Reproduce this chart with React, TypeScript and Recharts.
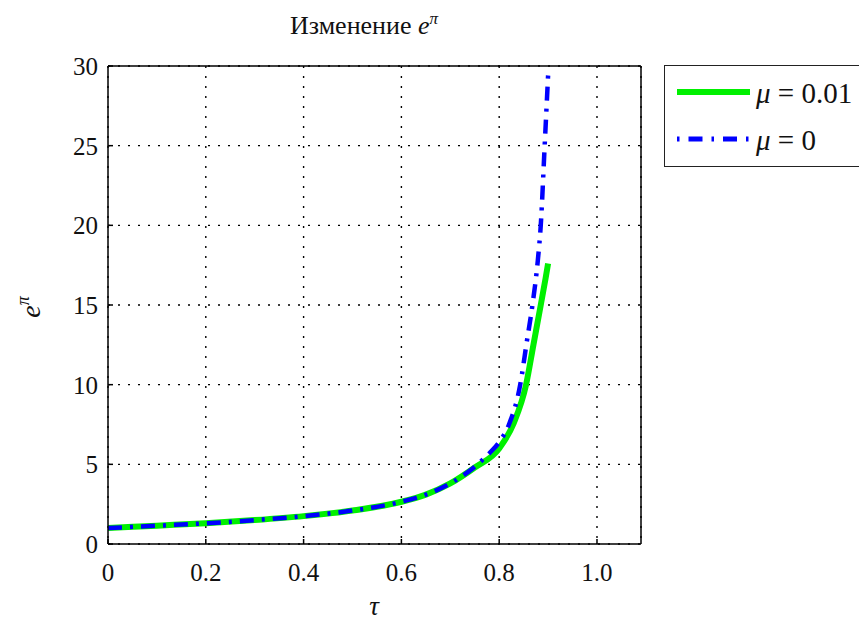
import React from 'react';
import { LineChart, Line, XAxis, YAxis, CartesianGrid, Legend, Label } from 'recharts';

// τ values and e^π values
const tauGreen = [0, 0.1, 0.2, 0.3, 0.4, 0.5, 0.6, 0.65, 0.7, 0.75, 0.8, 0.83, 0.855, 0.87, 0.885, 0.895, 0.9];
const valGreen = [1.0, 1.15, 1.3, 1.5, 1.75, 2.1, 2.65, 3.1, 3.8, 4.8, 6.0, 7.6, 10, 12.5, 15, 16.7, 17.6];
const tauBlue = [0, 0.1, 0.2, 0.3, 0.4, 0.5, 0.6, 0.65, 0.7, 0.75, 0.78, 0.8, 0.82, 0.843, 0.856, 0.868, 0.879, 0.885, 0.893, 0.9];
const valBlue = [1.0, 1.15, 1.3, 1.5, 1.75, 2.1, 2.65, 3.1, 3.8, 4.85, 5.7, 6.4, 7.5, 10, 12.6, 15, 17.8, 20, 25, 29.4];

const xTicks = [0, 0.2, 0.4, 0.6, 0.8, 1.0];
const yTicks = [0, 5, 10, 15, 20, 25, 30];
const seriesNames = ['0.01', '0'];

const greenData = tauGreen.map((t, i) => ({ tau: t, v: valGreen[i] }));
const blueData = tauBlue.map((t, i) => ({ tau: t, v: valBlue[i] }));

const FONT = '"Liberation Serif", "DejaVu Serif", serif';
const GREEN = '#00f000';
const BLUE = '#0000ff';

const renderLegend = () => (
  <div style={{ width: 195, height: 102, boxSizing: 'border-box', border: '1.5px solid #222', borderRight: 'none', background: '#fff' }}>
    <svg width={195} height={100} style={{ display: 'block' }}>
      <line x1={12} x2={85} y1={26} y2={26} stroke={GREEN} strokeWidth={6} />
      <text x={91} y={37} fontFamily={FONT} fontSize={29} fill="#111">
        <tspan fontStyle="italic">μ</tspan>
        <tspan> = {seriesNames[0]}</tspan>
      </text>
      <line x1={12} x2={84} y1={73} y2={73} stroke={BLUE} strokeWidth={5} strokeDasharray="2.5 9 14 9" />
      <text x={91} y={84} fontFamily={FONT} fontSize={29} fill="#111">
        <tspan fontStyle="italic">μ</tspan>
        <tspan> = {seriesNames[1]}</tspan>
      </text>
    </svg>
  </div>
);

const tickStyle = { fontFamily: FONT, fontSize: 25, fill: '#111' };

export default function App() {
  return (
    <div style={{ position: 'absolute', left: 0, top: 0, width: 859, height: 620, overflow: 'hidden', background: '#fff' }}>
      <LineChart width={859} height={620} margin={{ top: 65, right: 217, bottom: 46, left: 0 }}>
        <CartesianGrid stroke="#000" strokeWidth={1.4} strokeDasharray="2 8" />
        <XAxis
          dataKey="tau"
          type="number"
          domain={[0, 1.09]}
          ticks={xTicks}
          interval={0}
          allowDataOverflow
          height={30}
          stroke="#000"
          strokeWidth={1.5}
          tickSize={-5}
          tickMargin={24}
          tick={tickStyle}
          tickFormatter={(v: number) => (v === 0 ? '0' : v.toFixed(1))}
        >
          <Label
            content={() => (
              <text x={374} y={615} fontFamily={FONT} fontSize={27} fontStyle="italic" fill="#111" textAnchor="middle">τ</text>
            )}
          />
        </XAxis>
        <XAxis
          xAxisId="top"
          orientation="top"
          type="number"
          domain={[0, 1.09]}
          ticks={xTicks}
          interval={0}
          allowDataOverflow
          height={1}
          stroke="#000"
          strokeWidth={1.5}
          tickSize={-5}
          tick={false}
        >
          <Label
            content={() => (
              <text x={364} y={34} fontFamily={FONT} fontSize={26} fill="#111" textAnchor="middle">
                <tspan>Изменение </tspan>
                <tspan fontStyle="italic">e</tspan>
                <tspan fontStyle="italic" fontSize={17} dy={-10}>π</tspan>
              </text>
            )}
          />
        </XAxis>
        <YAxis
          type="number"
          domain={[0, 30]}
          ticks={yTicks}
          interval={0}
          allowDataOverflow
          width={108}
          stroke="#000"
          strokeWidth={1.5}
          tickSize={-5}
          tickMargin={15}
          tick={tickStyle}
        >
          <Label
            content={() => (
              <text x={40} y={307} fontFamily={FONT} fontSize={28} fill="#111" textAnchor="middle" transform="rotate(-90 40 307)">
                <tspan fontStyle="italic">e</tspan>
                <tspan fontStyle="italic" fontSize={18} dy={-11}>π</tspan>
              </text>
            )}
          />
        </YAxis>
        <YAxis
          yAxisId="right"
          orientation="right"
          type="number"
          domain={[0, 30]}
          ticks={yTicks}
          interval={0}
          allowDataOverflow
          width={1}
          stroke="#000"
          strokeWidth={1.5}
          tickSize={-5}
          tick={false}
        />
        <Legend
          layout="vertical"
          align="center"
          verticalAlign="middle"
          content={renderLegend}
          wrapperStyle={{ left: 664, top: 65, width: 195 }}
        />
        <Line
          data={greenData}
          dataKey="v"
          name="μ = 0.01"
          type="monotone"
          stroke={GREEN}
          strokeWidth={6}
          dot={false}
          activeDot={false}
          isAnimationActive={false}
        />
        <Line
          data={blueData}
          dataKey="v"
          name="μ = 0"
          type="monotone"
          stroke={BLUE}
          strokeWidth={4.5}
          strokeDasharray="14 8 3 8"
          dot={false}
          activeDot={false}
          isAnimationActive={false}
        />
      </LineChart>
    </div>
  );
}
